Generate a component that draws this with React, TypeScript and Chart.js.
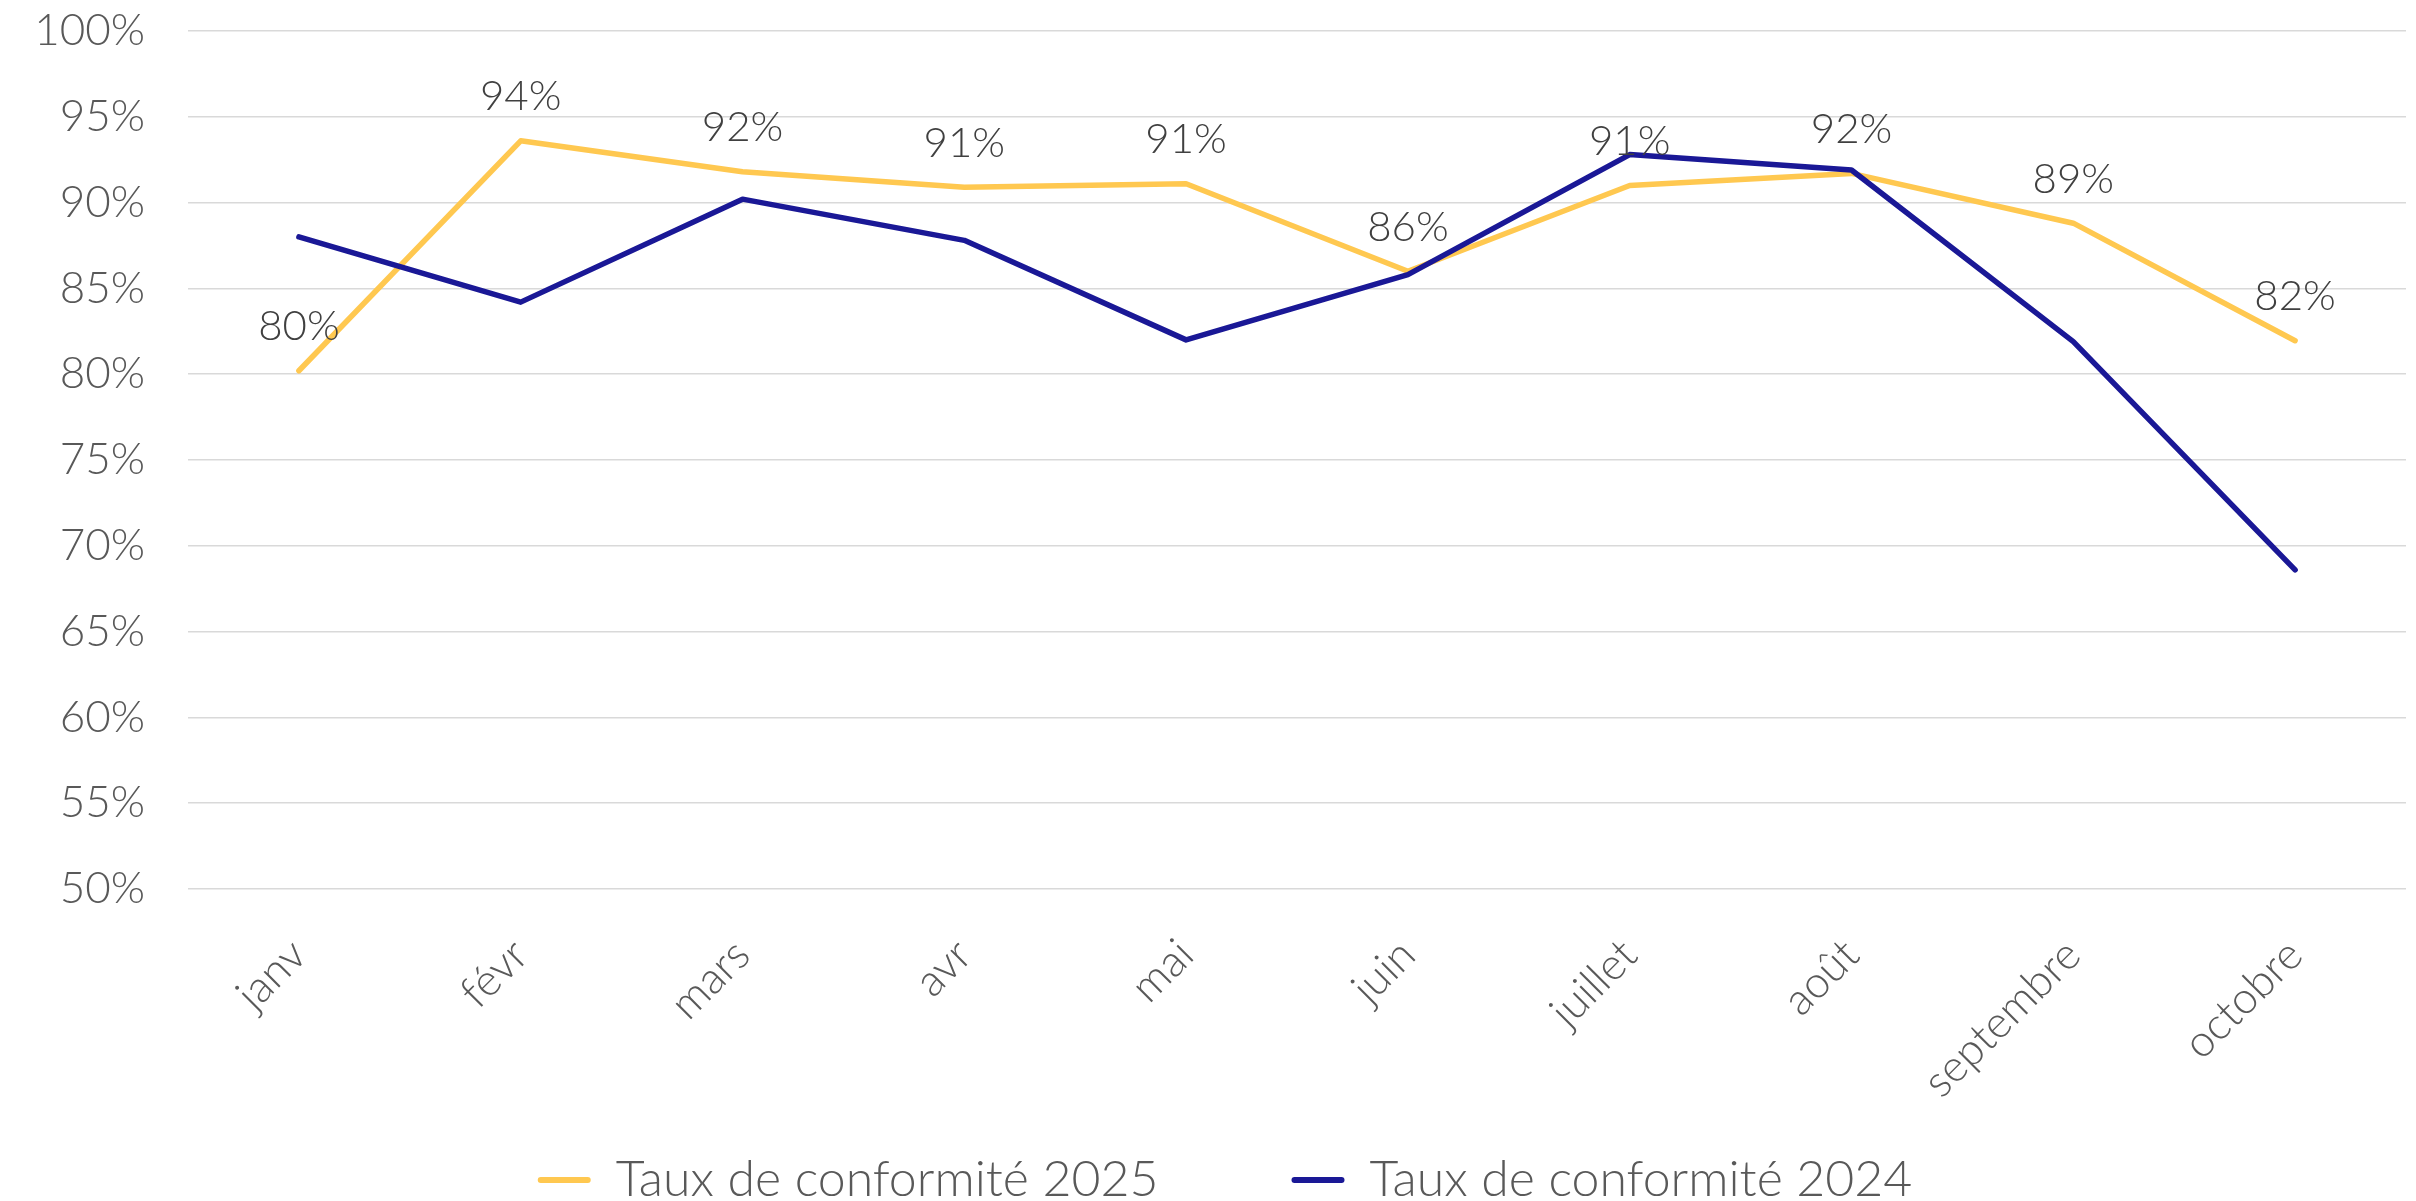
import React, { useEffect, useRef } from "react";
import { Chart, registerables } from "chart.js";

Chart.register(...registerables);

const categories = ["janv", "févr", "mars", "avr", "mai", "juin", "juillet", "août", "septembre", "octobre"];
const series2025 = [80.2, 93.6, 91.8, 90.9, 91.1, 86.0, 91.0, 91.7, 88.8, 81.95];
const series2024 = [88.0, 84.2, 90.2, 87.8, 82.0, 85.8, 92.8, 91.9, 81.9, 68.6];
const seriesNames = ["Taux de conformité 2025", "Taux de conformité 2024"];
const yMin = 50;
const yMax = 100;
const yStep = 5;

const FONT = "Lato";
const YELLOW = "#FFC850";
const BLUE = "#1A1896";

const dataLabelPlugin = {
  id: "dataLabels",
  afterDatasetsDraw(chart: any) {
    const ctx = chart.ctx;
    const meta = chart.getDatasetMeta(0);
    const values = chart.data.datasets[0].data as number[];
    ctx.save();
    ctx.font = `300 42px ${FONT}`;
    ctx.fillStyle = "#404040";
    ctx.textAlign = "center";
    ctx.textBaseline = "middle";
    meta.data.forEach((pt: any, i: number) => {
      ctx.fillText(Math.round(values[i]) + "%", pt.x, pt.y - 44);
    });
    ctx.restore();
  },
};

// nudges the built-in legend box to where the original legend sits
const legendShiftPlugin = {
  id: "legendShift",
  afterLayout(chart: any) {
    const lg = chart.legend;
    if (!lg) return;
    const dx = 22;
    const dy = -107;
    lg.left += dx;
    lg.right += dx;
    lg.top += dy;
    lg.bottom = chart.height;
    lg.height = lg.bottom - lg.top;
  },
};

export default function App() {
  const canvasRef = useRef<HTMLCanvasElement | null>(null);

  useEffect(() => {
    document.body.style.margin = "0";
    const canvas = canvasRef.current;
    if (!canvas) return;
    const chart = new Chart(canvas, {
      type: "line",
      data: {
        labels: categories,
        datasets: [
          {
            label: seriesNames[0],
            data: series2025,
            borderColor: YELLOW,
            backgroundColor: YELLOW,
            borderWidth: 5.5,
            pointRadius: 0,
            tension: 0,
            borderCapStyle: "round",
            borderJoinStyle: "round",
            order: 1,
          },
          {
            label: seriesNames[1],
            data: series2024,
            borderColor: BLUE,
            backgroundColor: BLUE,
            borderWidth: 5.5,
            pointRadius: 0,
            tension: 0,
            borderCapStyle: "round",
            borderJoinStyle: "round",
            order: 0,
          },
        ],
      },
      options: {
        responsive: false,
        animation: false,
        devicePixelRatio: 1,
        layout: { padding: { top: 31, left: 0, right: 10, bottom: 0 } },
        plugins: {
          tooltip: { enabled: false },
          legend: {
            position: "bottom",
            maxHeight: 72,
            labels: {
              boxWidth: 53,
              boxHeight: 6,
              padding: 133,
              color: "#595959",
              font: { family: FONT, size: 50, weight: "300" },
              sort: (a: any, b: any) => a.datasetIndex - b.datasetIndex,
              generateLabels: (c: any) => {
                const items = (Chart as any).defaults.plugins.legend.labels.generateLabels(c);
                return items.map((it: any) => ({ ...it, lineWidth: 0, borderRadius: 3 }));
              },
            },
          },
        },
        scales: {
          x: {
            offset: true,
            grid: { display: false, drawTicks: false },
            border: { display: false },
            afterFit: (scale: any) => {
              scale.height = 240;
              scale.paddingLeft = 0;
              scale.paddingRight = 0;
            },
            ticks: {
              autoSkip: false,
              minRotation: 45,
              maxRotation: 45,
              padding: 40,
              labelOffset: 0,
              color: "#595959",
              font: { family: FONT, size: 44, weight: "300" },
            },
          },
          y: {
            min: yMin,
            max: yMax,
            grid: { color: "#d9d9d9", lineWidth: 1.5, drawTicks: false },
            border: { display: false },
            afterFit: (scale: any) => {
              scale.width = 188;
              scale.paddingTop = 0;
              scale.paddingBottom = 0;
            },
            ticks: {
              stepSize: yStep,
              padding: 43,
              color: "#595959",
              font: { family: FONT, size: 44, weight: "300" },
              callback: (v: any) => v + "%",
            },
          },
        },
      },
      plugins: [dataLabelPlugin, legendShiftPlugin],
    } as any);
    return () => chart.destroy();
  }, []);

  return (
    <div style={{ width: 2416, height: 1201 }}>
      <canvas ref={canvasRef} width={2416} height={1201} style={{ display: "block" }} />
    </div>
  );
}
